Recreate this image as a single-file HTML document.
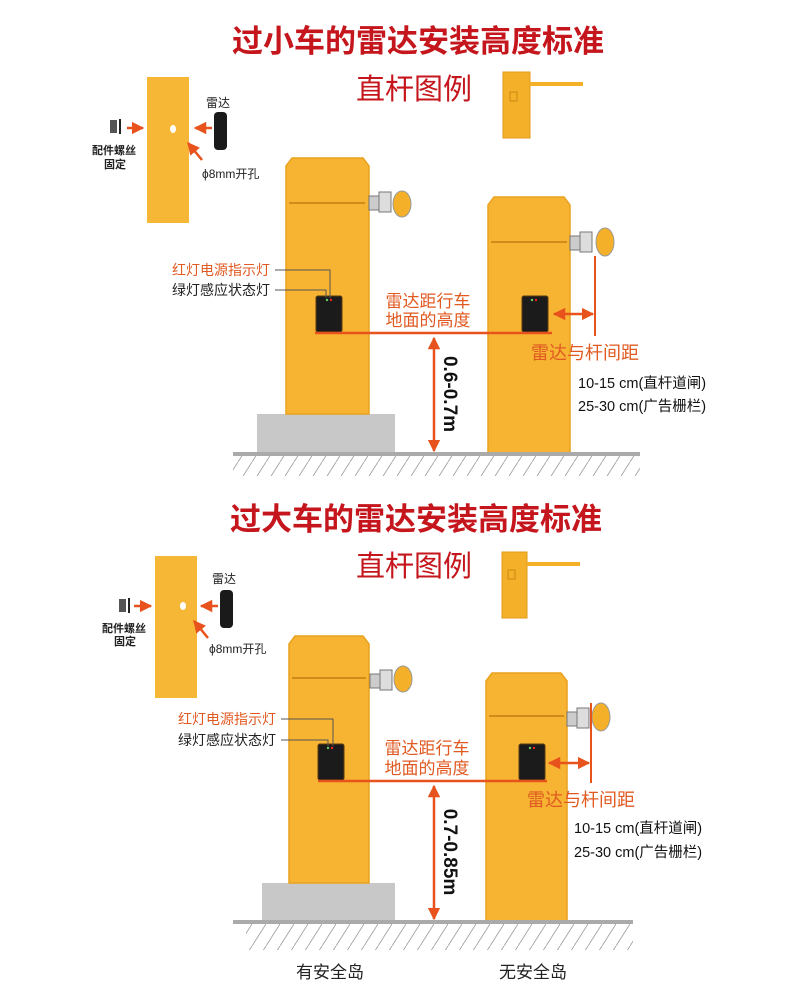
<!DOCTYPE html>
<html><head><meta charset="utf-8"><style>
html,body{margin:0;padding:0;background:#fff;}
svg{display:block;font-family:"Liberation Sans","Noto Sans CJK SC",sans-serif;}
</style></head><body>
<svg width="800" height="995" viewBox="0 0 800 995" xmlns="http://www.w3.org/2000/svg">
<defs>
<marker id="ah" viewBox="0 0 10 10" refX="9" refY="5" markerWidth="5" markerHeight="5" orient="auto-start-reverse"><path d="M0,0 L10,5 L0,10 z" fill="#e8521c"/></marker>
<pattern id="hatch" width="14" height="22" patternUnits="userSpaceOnUse"><line x1="14" y1="0" x2="0" y2="22" stroke="#999" stroke-width="0.8"/></pattern>
</defs>

<!-- ============ TOP SECTION ============ -->
<text x="418" y="52" text-anchor="middle" font-size="31" font-weight="bold" fill="#c4161c">过小车的雷达安装高度标准</text>
<text x="414" y="99" text-anchor="middle" font-size="29" fill="#c4161c">直杆图例</text>
<!-- small barrier icon -->
<rect x="503" y="72" width="27" height="66" fill="#f5b02a" stroke="#e09a18"/>
<rect x="530" y="82" width="53" height="4" fill="#f5b02a"/>
<rect x="510" y="92" width="7" height="9" fill="none" stroke="#c98a10" stroke-width="1"/>
<!-- left plate -->
<rect x="147" y="77" width="42" height="146" fill="#f6b636"/>
<ellipse cx="173" cy="129" rx="3" ry="4" fill="#fff"/>
<rect x="110" y="120" width="7" height="13" fill="#555"/>
<line x1="120" y1="119" x2="120" y2="134" stroke="#222" stroke-width="2"/>
<line x1="127" y1="128" x2="143" y2="128" stroke="#e8521c" stroke-width="2.5" marker-end="url(#ah)"/>
<rect x="214" y="112" width="13" height="38" rx="4" fill="#1a1a1a"/>
<line x1="212" y1="128" x2="195" y2="128" stroke="#e8521c" stroke-width="2.5" marker-end="url(#ah)"/>
<line x1="202" y1="160" x2="188" y2="143" stroke="#e8521c" stroke-width="2.5" marker-end="url(#ah)"/>
<text x="206" y="107" font-size="12" fill="#222">雷达</text>
<text x="92" y="154" font-size="11" font-weight="bold" fill="#222">配件螺丝</text>
<text x="104" y="168" font-size="11" font-weight="bold" fill="#222">固定</text>
<text x="202" y="178" font-size="12" fill="#222">ϕ8mm开孔</text>
<!-- pillar1 -->
<rect x="257" y="414" width="138" height="39" fill="#c8c8c8"/>
<path d="M286,166 L292,158 L363,158 L369,166 L369,414 L286,414 z" fill="#f6b432" stroke="#e9a21d" stroke-width="1.5"/>
<line x1="289" y1="203" x2="365" y2="203" stroke="#c47e10" stroke-width="1.5"/>
<rect x="369" y="196" width="10" height="14" fill="#ccc" stroke="#777"/>
<rect x="379" y="192" width="12" height="20" fill="#ddd" stroke="#777"/>
<ellipse cx="402" cy="204" rx="9" ry="13" fill="#f5b02a" stroke="#999"/>
<!-- pillar2 -->
<path d="M488,205 L494,197 L564,197 L570,205 L570,454 L488,454 z" fill="#f6b432" stroke="#e9a21d" stroke-width="1.5"/>
<line x1="491" y1="242" x2="567" y2="242" stroke="#c47e10" stroke-width="1.5"/>
<rect x="570" y="236" width="10" height="14" fill="#ccc" stroke="#777"/>
<rect x="580" y="232" width="12" height="20" fill="#ddd" stroke="#777"/>
<ellipse cx="605" cy="242" rx="9" ry="14" fill="#f5b02a" stroke="#999"/>
<!-- radars -->
<rect x="316" y="296" width="26" height="36" rx="2" fill="#1b1b1b" stroke="#5a3a10"/>
<circle cx="327" cy="300" r="1.2" fill="#6c6"/><circle cx="331" cy="300" r="1.2" fill="#e22"/>
<rect x="522" y="296" width="26" height="36" rx="2" fill="#1b1b1b" stroke="#5a3a10"/>
<circle cx="532" cy="300" r="1.2" fill="#6c6"/><circle cx="536" cy="300" r="1.2" fill="#e22"/>
<!-- red lines -->
<line x1="315" y1="333" x2="552" y2="333" stroke="#e8521c" stroke-width="2.5"/>
<line x1="595" y1="256" x2="595" y2="336" stroke="#e8521c" stroke-width="2"/>
<line x1="554" y1="314" x2="593" y2="314" stroke="#e8521c" stroke-width="2.5" marker-start="url(#ah)" marker-end="url(#ah)"/>
<line x1="434" y1="338" x2="434" y2="451" stroke="#e8521c" stroke-width="2.5" marker-start="url(#ah)" marker-end="url(#ah)"/>
<text transform="translate(444,394) rotate(90)" text-anchor="middle" font-size="19" font-weight="bold" fill="#111">0.6-0.7m</text>
<text x="428" y="307" text-anchor="middle" font-size="17" fill="#e05a22">雷达距行车</text>
<text x="428" y="326" text-anchor="middle" font-size="17" fill="#e05a22">地面的高度</text>
<text x="172" y="275" font-size="14" fill="#e05a22">红灯电源指示灯</text>
<text x="172" y="295" font-size="14" fill="#222">绿灯感应状态灯</text>
<polyline points="275,270 330,270 330,298" fill="none" stroke="#555" stroke-width="1"/>
<polyline points="275,290 326,290 326,298" fill="none" stroke="#555" stroke-width="1"/>
<text x="531" y="359" font-size="18" fill="#e05a22">雷达与杆间距</text>
<text x="578" y="388" font-size="14.5" fill="#111">10-15 cm(直杆道闸)</text>
<text x="578" y="411" font-size="14.5" fill="#111">25-30 cm(广告栅栏)</text>
<!-- ground -->
<rect x="233" y="452" width="407" height="4" fill="#aaa"/>
<rect x="233" y="456" width="407" height="20" fill="url(#hatch)"/>

<!-- ============ BOTTOM SECTION ============ -->
<text x="416" y="530" text-anchor="middle" font-size="31" font-weight="bold" fill="#c4161c">过大车的雷达安装高度标准</text>
<text x="414" y="576" text-anchor="middle" font-size="29" fill="#c4161c">直杆图例</text>
<rect x="502" y="552" width="25" height="66" fill="#f5b02a" stroke="#e09a18"/>
<rect x="527" y="562" width="53" height="4" fill="#f5b02a"/>
<rect x="508" y="570" width="7" height="9" fill="none" stroke="#c98a10" stroke-width="1"/>
<rect x="155" y="556" width="42" height="142" fill="#f6b636"/>
<ellipse cx="183" cy="606" rx="3" ry="4" fill="#fff"/>
<rect x="119" y="599" width="7" height="13" fill="#555"/>
<line x1="129" y1="598" x2="129" y2="613" stroke="#222" stroke-width="2"/>
<line x1="134" y1="606" x2="151" y2="606" stroke="#e8521c" stroke-width="2.5" marker-end="url(#ah)"/>
<rect x="220" y="590" width="13" height="38" rx="4" fill="#1a1a1a"/>
<line x1="218" y1="606" x2="201" y2="606" stroke="#e8521c" stroke-width="2.5" marker-end="url(#ah)"/>
<line x1="208" y1="638" x2="194" y2="621" stroke="#e8521c" stroke-width="2.5" marker-end="url(#ah)"/>
<text x="212" y="583" font-size="12" fill="#222">雷达</text>
<text x="102" y="632" font-size="11" font-weight="bold" fill="#222">配件螺丝</text>
<text x="114" y="645" font-size="11" font-weight="bold" fill="#222">固定</text>
<text x="209" y="653" font-size="12" fill="#222">ϕ8mm开孔</text>
<rect x="262" y="883" width="133" height="39" fill="#c8c8c8"/>
<path d="M289,644 L295,636 L363,636 L369,644 L369,883 L289,883 z" fill="#f6b432" stroke="#e9a21d" stroke-width="1.5"/>
<line x1="292" y1="678" x2="366" y2="678" stroke="#c47e10" stroke-width="1.5"/>
<rect x="370" y="674" width="10" height="14" fill="#ccc" stroke="#777"/>
<rect x="380" y="670" width="12" height="20" fill="#ddd" stroke="#777"/>
<ellipse cx="403" cy="679" rx="9" ry="13" fill="#f5b02a" stroke="#999"/>
<path d="M486,681 L492,673 L561,673 L567,681 L567,922 L486,922 z" fill="#f6b432" stroke="#e9a21d" stroke-width="1.5"/>
<line x1="489" y1="716" x2="564" y2="716" stroke="#c47e10" stroke-width="1.5"/>
<rect x="567" y="712" width="10" height="14" fill="#ccc" stroke="#777"/>
<rect x="577" y="708" width="12" height="20" fill="#ddd" stroke="#777"/>
<ellipse cx="601" cy="717" rx="9" ry="14" fill="#f5b02a" stroke="#999"/>
<rect x="318" y="744" width="26" height="36" rx="2" fill="#1b1b1b" stroke="#5a3a10"/>
<circle cx="328" cy="748" r="1.2" fill="#6c6"/><circle cx="332" cy="748" r="1.2" fill="#e22"/>
<rect x="519" y="744" width="26" height="36" rx="2" fill="#1b1b1b" stroke="#5a3a10"/>
<circle cx="530" cy="748" r="1.2" fill="#6c6"/><circle cx="534" cy="748" r="1.2" fill="#e22"/>
<line x1="318" y1="781" x2="547" y2="781" stroke="#e8521c" stroke-width="2.5"/>
<line x1="591" y1="703" x2="591" y2="783" stroke="#e8521c" stroke-width="2"/>
<line x1="549" y1="763" x2="589" y2="763" stroke="#e8521c" stroke-width="2.5" marker-start="url(#ah)" marker-end="url(#ah)"/>
<line x1="434" y1="786" x2="434" y2="919" stroke="#e8521c" stroke-width="2.5" marker-start="url(#ah)" marker-end="url(#ah)"/>
<text transform="translate(444,852) rotate(90)" text-anchor="middle" font-size="19" font-weight="bold" fill="#111">0.7-0.85m</text>
<text x="427" y="754" text-anchor="middle" font-size="17" fill="#e05a22">雷达距行车</text>
<text x="427" y="774" text-anchor="middle" font-size="17" fill="#e05a22">地面的高度</text>
<text x="178" y="724" font-size="14" fill="#e05a22">红灯电源指示灯</text>
<text x="178" y="745" font-size="14" fill="#222">绿灯感应状态灯</text>
<polyline points="281,719 333,719 333,746" fill="none" stroke="#555" stroke-width="1"/>
<polyline points="281,740 328,740 328,746" fill="none" stroke="#555" stroke-width="1"/>
<text x="527" y="806" font-size="18" fill="#e05a22">雷达与杆间距</text>
<text x="574" y="833" font-size="14.5" fill="#111">10-15 cm(直杆道闸)</text>
<text x="574" y="857" font-size="14.5" fill="#111">25-30 cm(广告栅栏)</text>
<rect x="233" y="920" width="400" height="4" fill="#aaa"/>
<rect x="246" y="924" width="387" height="26" fill="url(#hatch)"/>
<text x="330" y="978" text-anchor="middle" font-size="17" fill="#222">有安全岛</text>
<text x="533" y="978" text-anchor="middle" font-size="17" fill="#222">无安全岛</text>
</svg>
</body></html>
